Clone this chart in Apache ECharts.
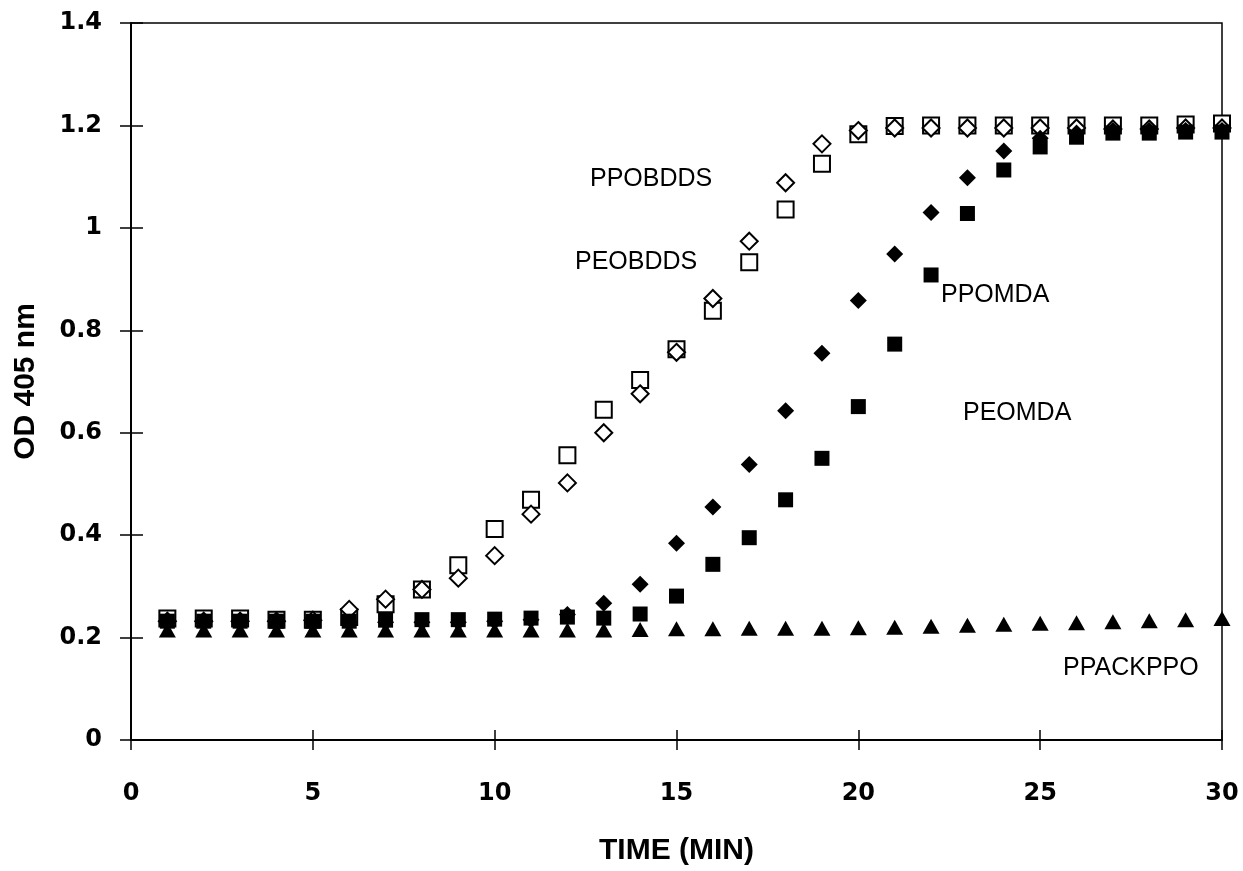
<!DOCTYPE html>
<html>
<head>
<meta charset="utf-8">
<title>OD 405 nm vs time</title>
<script src="https://cdn.jsdelivr.net/npm/echarts@6/dist/echarts.min.js"></script>
<style>
  html, body { margin: 0; padding: 0; background: #fff; }
  #chart { width: 1243px; height: 871px; }
</style>
</head>
<body>
<div id="chart"></div>
<script>
// Reading times (min)
const times = [1, 2, 3, 4, 5, 6, 7, 8, 9, 10, 11, 12, 13, 14, 15,
               16, 17, 18, 19, 20, 21, 22, 23, 24, 25, 26, 27, 28, 29, 30];

// OD 405 nm readings per construct
const ppobdds = [0.232, 0.232, 0.232, 0.232, 0.234, 0.255, 0.275, 0.294, 0.316, 0.360,
                 0.441, 0.502, 0.600, 0.676, 0.757, 0.862, 0.974, 1.088, 1.164, 1.190,
                 1.195, 1.195, 1.195, 1.195, 1.195, 1.195, 1.193, 1.193, 1.195, 1.195];
const peobdds = [0.237, 0.237, 0.237, 0.235, 0.235, 0.240, 0.265, 0.294, 0.341, 0.412,
                 0.469, 0.556, 0.645, 0.703, 0.763, 0.838, 0.933, 1.036, 1.125, 1.183,
                 1.199, 1.200, 1.200, 1.200, 1.200, 1.200, 1.200, 1.200, 1.202, 1.204];
const ppomda  = [0.230, 0.230, 0.230, 0.230, 0.230, 0.230, 0.230, 0.230, 0.230, 0.232,
                 0.235, 0.245, 0.267, 0.304, 0.384, 0.455, 0.538, 0.643, 0.755, 0.858,
                 0.949, 1.030, 1.098, 1.150, 1.175, 1.185, 1.190, 1.190, 1.190, 1.190];
const peomda  = [0.232, 0.232, 0.232, 0.232, 0.232, 0.232, 0.234, 0.235, 0.235, 0.236,
                 0.238, 0.240, 0.238, 0.246, 0.281, 0.343, 0.395, 0.469, 0.550, 0.651,
                 0.773, 0.908, 1.028, 1.113, 1.158, 1.177, 1.185, 1.185, 1.187, 1.187];
const ppackppo = [0.215, 0.215, 0.215, 0.215, 0.215, 0.215, 0.215, 0.215, 0.215, 0.215,
                  0.215, 0.215, 0.215, 0.216, 0.217, 0.217, 0.218, 0.218, 0.218, 0.219,
                  0.220, 0.222, 0.224, 0.226, 0.228, 0.229, 0.231, 0.233, 0.235, 0.237];

// Axis ticks
const xTicks = [0, 5, 10, 15, 20, 25, 30];
const yTicks = [0, 0.2, 0.4, 0.6, 0.8, 1, 1.2, 1.4];

const pairs = vals => times.map((t, i) => [t, vals[i]]);

const axisFont = { fontFamily: 'DejaVu Sans', fontWeight: 'bold', fontSize: 24, color: '#000' };
const titleFont = { fontFamily: 'Liberation Sans', fontWeight: 'bold', fontSize: 30, color: '#000' };
const tagFont = { fontFamily: 'Liberation Sans', fontSize: 25, fill: '#000' };

const openStyle = { color: '#fff', borderColor: '#000', borderWidth: 2, opacity: 1 };
const solidStyle = { color: '#000', borderColor: '#000', borderWidth: 0, opacity: 1 };

const chart = echarts.init(document.getElementById('chart'), null, { renderer: 'canvas' });

const option = {
  animation: false,
  backgroundColor: '#fff',
  grid: {
    left: 131, right: 21, top: 23, bottom: 125,
    show: true, borderColor: '#000', borderWidth: 1.5, backgroundColor: 'transparent'
  },
  xAxis: [{
    type: 'value', min: xTicks[0], max: xTicks[xTicks.length - 1], interval: 5,
    name: 'TIME (MIN)', nameLocation: 'middle', nameGap: 96, nameTextStyle: titleFont,
    axisLine: { show: true, lineStyle: { color: '#000', width: 2 } },
    axisTick: { show: true, length: 10, lineStyle: { color: '#000', width: 1.5 } },
    axisLabel: Object.assign({ margin: 42 }, axisFont),
    splitLine: { show: false }
  }, {
    // inner half of the crossing ticks
    type: 'value', min: xTicks[0], max: xTicks[xTicks.length - 1], interval: 5,
    position: 'bottom',
    axisLine: { show: false },
    axisTick: { show: true, inside: true, length: 10, lineStyle: { color: '#000', width: 1.5 } },
    axisLabel: { show: false }, splitLine: { show: false }
  }],
  yAxis: [{
    type: 'value', min: yTicks[0], max: yTicks[yTicks.length - 1], interval: 0.2,
    name: 'OD 405 nm', nameLocation: 'middle', nameGap: 90, nameRotate: 90, nameTextStyle: titleFont,
    axisLine: { show: true, lineStyle: { color: '#000', width: 2 } },
    axisTick: { show: true, length: 11, lineStyle: { color: '#000', width: 1.5 } },
    axisLabel: Object.assign({ margin: 29 }, axisFont),
    splitLine: { show: false }
  }, {
    type: 'value', min: yTicks[0], max: yTicks[yTicks.length - 1], interval: 0.2,
    position: 'left',
    axisLine: { show: false },
    axisTick: { show: true, inside: true, length: 12, lineStyle: { color: '#000', width: 1.5 } },
    axisLabel: { show: false }, splitLine: { show: false }
  }],
  series: [
    { name: 'PPACKPPO', type: 'scatter', symbol: 'triangle', symbolSize: [17, 15],
      itemStyle: solidStyle, data: pairs(ppackppo), z: 2 },
    { name: 'PEOBDDS', type: 'scatter', symbol: 'rect', symbolSize: 16,
      itemStyle: openStyle, data: pairs(peobdds), z: 3 },
    { name: 'PPOBDDS', type: 'scatter', symbol: 'diamond', symbolSize: 17,
      itemStyle: openStyle, data: pairs(ppobdds), z: 4 },
    { name: 'PPOMDA', type: 'scatter', symbol: 'diamond', symbolSize: 17,
      itemStyle: solidStyle, data: pairs(ppomda), z: 5 },
    { name: 'PEOMDA', type: 'scatter', symbol: 'rect', symbolSize: 15,
      itemStyle: solidStyle, data: pairs(peomda), z: 6 }
  ],
  graphic: [
    { type: 'text', left: 590, top: 167, style: Object.assign({ text: 'PPOBDDS' }, tagFont) },
    { type: 'text', left: 575, top: 250, style: Object.assign({ text: 'PEOBDDS' }, tagFont) },
    { type: 'text', left: 941, top: 283, style: Object.assign({ text: 'PPOMDA' }, tagFont) },
    { type: 'text', left: 963, top: 401, style: Object.assign({ text: 'PEOMDA' }, tagFont) },
    { type: 'text', left: 1063, top: 656, style: Object.assign({ text: 'PPACKPPO' }, tagFont) }
  ]
};

chart.setOption(option);
</script>
</body>
</html>
